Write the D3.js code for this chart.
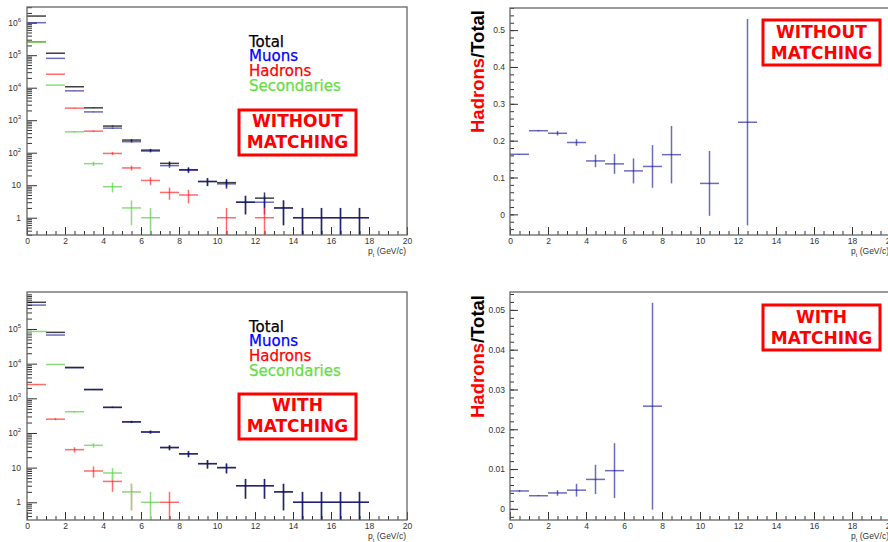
<!DOCTYPE html>
<html><head><meta charset="utf-8">
<script src="https://cdn.jsdelivr.net/npm/d3@7"></script>
<style>body{margin:0;background:#fff;overflow:hidden} svg{display:block}</style>
</head><body>
<svg id="c" width="888" height="542"></svg>
<script>
// ---------------- DATA ----------------
const ptCenters = [0.5,1.5,2.5,3.5,4.5,5.5,6.5,7.5,8.5,9.5,10.5,11.5,12.5,13.5,14.5,15.5,16.5,17.5];

// Without matching (counts)
const totalNoMatch       = [1.6e6, 1.15e5, 1.07e4, 2400, 660, 245, 120, 47, 30, 13, 12, 3, 4, 2, 1, 1, 1, 1];
const muonsNoMatch       = [1.0e6, 8.0e4, 8000, 1800, 570, 218, 112, 40, 29, 13, 11, 3, 3, 2, 1, 1, 1, 1];
const hadronsNoMatch     = [2.6e5, 2.6e4, 2350, 460, 95, 34, 14, 6, 5, null, 1, null, 1, null, null, null, null, null];
const secondariesNoMatch = [2.5e5, 1.2e4, 440, 46, 9, 2, 1, null, null, null, null, null, null, null, null, null, null, null];

// With matching (counts)
const totalMatch       = [5.9e5, 8.0e4, 7.8e3, 1.8e3, 550, 210, 107, 38, 25, 13, 10, 3, 3, 2, 1, 1, 1, 1];
const muonsMatch       = [4.9e5, 6.7e4, 7.6e3, 1.78e3, 545, 208, 106, 38, 25, 13, 10, 3, 3, 2, 1, 1, 1, 1];
const hadronsMatch     = [2.5e3, 250, 33, 8, 4, 2, null, 1, null, null, null, null, null, null, null, null, null, null];
const secondariesMatch = [8.5e4, 9.5e3, 410, 44, 7, 2, 1, null, null, null, null, null, null, null, null, null, null, null];

// Ratios Hadrons/Total
const ratioNoMatch    = [0.163, 0.227, 0.220, 0.195, 0.145, 0.137, 0.118, 0.130, 0.162, null, 0.084, null, 0.250, null, null, null, null, null];
const ratioNoMatchErr = [0.001, 0.0015, 0.006, 0.009, 0.017, 0.027, 0.034, 0.058, 0.078, null, 0.088, null, 0.28, null, null, null, null, null];
const ratioMatch      = [0.0045, 0.0033, 0.0040, 0.0047, 0.0074, 0.0096, null, 0.0258, null, null, null, null, null, null, null, null, null, null];
const ratioMatchErr   = [0.0002, 0.0001, 0.0007, 0.0016, 0.0037, 0.0069, null, 0.026, null, null, null, null, null, null, null, null, null, null];

// Tick labels
const xTicks = [0,2,4,6,8,10,12,14,16,18,20];
const logDecadesNoMatch = [1,10,100,1000,1e4,1e5,1e6];
const logDecadesMatch   = [1,10,100,1000,1e4,1e5];
const ratioTicksNoMatch = [0,0.1,0.2,0.3,0.4,0.5];
const ratioTicksMatch   = [0,0.01,0.02,0.03,0.04,0.05];

const legendLabels = ["Total","Muons","Hadrons","Secondaries"];
const legendTextColors = ["#000000","#0000ff","#ff0000","#66dd44"];
const lineColors = {total:"#000000", muons:"#10109a", hadrons:"#ff1a1a", secondaries:"#55d044"};

// ---------------- DRAWING ----------------
const svg = d3.select("#c");
const TICKFONT = "'Liberation Sans', Arial, Helvetica, sans-serif";
const defs = svg.append("defs");

const panels = {
  p1:{x0:27, x1:407, y0:7,   y1:235, id:"c1"},
  p2:{x0:510,x1:890, y0:8,   y1:235, id:"c2"},
  p3:{x0:27, x1:407, y0:292, y1:520, id:"c3"},
  p4:{x0:510,x1:890, y0:292, y1:520, id:"c4"}
};
Object.values(panels).forEach(L=>{
  defs.append("clipPath").attr("id",L.id).append("rect")
    .attr("x",L.x0).attr("y",L.y0).attr("width",L.x1-L.x0).attr("height",L.y1-L.y0);
});

function styleAxis(g){
  g.select(".domain").remove();
  g.selectAll(".tick line").attr("stroke","#333").attr("stroke-width",1);
  g.selectAll(".tick text").attr("fill","#333").style("font-family",TICKFONT).style("font-size","8.5px");
}

function drawFrame(L){
  svg.append("rect").attr("x",L.x0).attr("y",L.y0).attr("width",L.x1-L.x0).attr("height",L.y1-L.y0)
    .attr("fill","none").attr("stroke","#666").attr("stroke-width",1.3);
}

function drawXAxis(L){
  const x = d3.scaleLinear().domain([0,20]).range([L.x0,L.x1]);
  const gm = svg.append("g").attr("transform",`translate(0,${L.y1})`)
    .call(d3.axisBottom(x).tickValues(d3.range(0,20.001,0.5)).tickSize(-4).tickFormat(""));
  styleAxis(gm);
  const gM = svg.append("g").attr("transform",`translate(0,${L.y1})`)
    .call(d3.axisBottom(x).tickValues(xTicks).tickSize(-8).tickPadding(3).tickFormat(d3.format("d")));
  styleAxis(gM);
  const t = svg.append("text").attr("x",L.x1-1).attr("y",L.y1+19).attr("text-anchor","end")
    .attr("fill","#333").style("font-family",TICKFONT).style("font-size","8.5px");
  t.append("tspan").text("p");
  t.append("tspan").attr("dy","2.5").style("font-size","5.5px").text("t");
  t.append("tspan").attr("dy","-2.5").text(" (GeV/c)");
  return x;
}

function drawLogY(L, domain, decades){
  const y = d3.scaleLog().domain(domain).range([L.y1,L.y0]);
  const minors = [];
  for (let e=Math.floor(Math.log10(domain[0])); e<=Math.ceil(Math.log10(domain[1])); e++){
    for (let m=1;m<10;m++){
      const v = m*Math.pow(10,e);
      if (v>=domain[0] && v<=domain[1] && !(m===1 && decades.includes(v))) minors.push(v);
    }
  }
  const gm = svg.append("g").attr("transform",`translate(${L.x0},0)`)
    .call(d3.axisLeft(y).tickValues(minors).tickSize(-5).tickFormat(""));
  styleAxis(gm);
  const gM = svg.append("g").attr("transform",`translate(${L.x0},0)`)
    .call(d3.axisLeft(y).tickValues(decades).tickSize(-10).tickPadding(6).tickFormat(""));
  styleAxis(gM);
  decades.forEach(v=>{
    const e = Math.round(Math.log10(v));
    const t = svg.append("text").attr("x",L.x0-6).attr("y",y(v)).attr("dy","0.35em")
      .attr("text-anchor","end").attr("fill","#333")
      .style("font-family",TICKFONT).style("font-size","8.5px");
    if (e===0) t.text("1");
    else if (e===1) t.text("10");
    else { t.append("tspan").text("10"); t.append("tspan").attr("dy","-4").style("font-size","6px").text(String(e)); }
  });
  return y;
}

function drawLinY(L, domain, ticks, minorStep){
  const y = d3.scaleLinear().domain(domain).range([L.y1,L.y0]);
  const start = Math.ceil(domain[0]/minorStep);
  const end = Math.floor(domain[1]/minorStep);
  const minors = d3.range(start,end+1).map(k=>k*minorStep);
  const gm = svg.append("g").attr("transform",`translate(${L.x0},0)`)
    .call(d3.axisLeft(y).tickValues(minors).tickSize(-4).tickFormat(""));
  styleAxis(gm);
  const gM = svg.append("g").attr("transform",`translate(${L.x0},0)`)
    .call(d3.axisLeft(y).tickValues(ticks).tickSize(-8).tickPadding(5).tickFormat(d=>String(d)));
  styleAxis(gM);
  gM.selectAll(".tick text").attr("x",-5);
  return y;
}

function drawHist(L, x, y, vals, errs, color, width, opacity){
  const g = svg.append("g").attr("clip-path",`url(#${L.id})`)
    .attr("stroke",color).attr("stroke-width",width).attr("stroke-opacity",opacity).attr("fill","none");
  const [dlo,dhi] = y.domain();
  ptCenters.forEach((c,i)=>{
    const v = vals[i];
    if (v==null) return;
    const e = errs ? errs[i] : Math.sqrt(v);
    let lo = Math.max(v-e, dlo), hi = Math.min(v+e, dhi);
    g.append("line").attr("x1",x(c-0.5)).attr("x2",x(c+0.5)).attr("y1",y(v)).attr("y2",y(v));
    g.append("line").attr("x1",x(c)).attr("x2",x(c)).attr("y1",y(lo)).attr("y2",y(hi));
  });
}

function drawLegend(L, dy){
  legendLabels.forEach((s,i)=>{
    svg.append("text").attr("x",249).attr("y",L.y0+39.7+i*14.7+dy).attr("fill",legendTextColors[i])
      .style("font-family","'DejaVu Sans', sans-serif").style("font-size","15px")
      .attr("stroke",legendTextColors[i]).attr("stroke-width",0.25).text(s);
  });
}

function drawBox(x0,y0,x1,y1,lines,base){
  svg.append("rect").attr("x",x0).attr("y",y0).attr("width",x1-x0).attr("height",y1-y0)
    .attr("fill","#fff").attr("stroke","#ff0000").attr("stroke-width",3);
  lines.forEach((s,i)=>{
    svg.append("text").attr("x",(x0+x1)/2).attr("y",base[i]).attr("text-anchor","middle")
      .attr("fill","#ff0000").style("font-family","'DejaVu Sans', sans-serif")
      .style("font-weight","bold").style("font-size","17px").text(s);
  });
}

function drawRatioTitle(xb, yEnd){
  const t = svg.append("text").attr("transform",`translate(${xb},${yEnd}) rotate(-90)`)
    .attr("text-anchor","end").style("font-family","'Liberation Sans', Arial, sans-serif")
    .style("font-weight","bold").style("font-size","18.5px");
  t.append("tspan").attr("fill","#ff0000").text("Hadrons");
  t.append("tspan").attr("fill","#000").text("/Total");
}

// Panel 1: without matching, log
{
  const L = panels.p1;
  const x = drawXAxis(L);
  const y = drawLogY(L,[0.294,3.04e6],logDecadesNoMatch);
  drawHist(L,x,y,totalNoMatch,null,lineColors.total,1.5,0.75);
  drawHist(L,x,y,muonsNoMatch,null,lineColors.muons,1.5,0.62);
  drawHist(L,x,y,hadronsNoMatch,null,lineColors.hadrons,1.5,0.65);
  drawHist(L,x,y,secondariesNoMatch,null,lineColors.secondaries,1.5,0.7);
  drawFrame(L);
  drawLegend(L,0);
  drawBox(239,110,356,155,["WITHOUT","MATCHING"],[126.5,147.5]);
}
// Panel 2: ratio without matching
{
  const L = panels.p2;
  const x = drawXAxis(L);
  const y = drawLinY(L,[-0.056,0.56],ratioTicksNoMatch,0.02);
  drawHist(L,x,y,ratioNoMatch,ratioNoMatchErr,lineColors.muons,1.5,0.62);
  drawFrame(L);
  drawRatioTitle(484,10);
  drawBox(763,20,880,65,["WITHOUT","MATCHING"],[37.5,58.5]);
}
// Panel 3: with matching, log
{
  const L = panels.p3;
  const x = drawXAxis(L);
  const y = drawLogY(L,[0.308,1.17e6],logDecadesMatch);
  drawHist(L,x,y,totalMatch,null,lineColors.total,1.5,0.75);
  drawHist(L,x,y,muonsMatch,null,lineColors.muons,1.5,0.62);
  drawHist(L,x,y,hadronsMatch,null,lineColors.hadrons,1.5,0.65);
  drawHist(L,x,y,secondariesMatch,null,"#ffffff",1.8,1);
  drawHist(L,x,y,secondariesMatch,null,lineColors.secondaries,1.5,0.7);
  drawFrame(L);
  drawLegend(L,0);
  drawBox(239,394,356,439,["WITH","MATCHING"],[410.5,431.5]);
}
// Panel 4: ratio with matching
{
  const L = panels.p4;
  const x = drawXAxis(L);
  const y = drawLinY(L,[-0.0028,0.0545],ratioTicksMatch,0.002);
  drawHist(L,x,y,ratioMatch,ratioMatchErr,lineColors.muons,1.5,0.62);
  drawFrame(L);
  drawRatioTitle(484,295);
  drawBox(763,305,880,350,["WITH","MATCHING"],[322.5,343.5]);
}
</script>
</body></html>
